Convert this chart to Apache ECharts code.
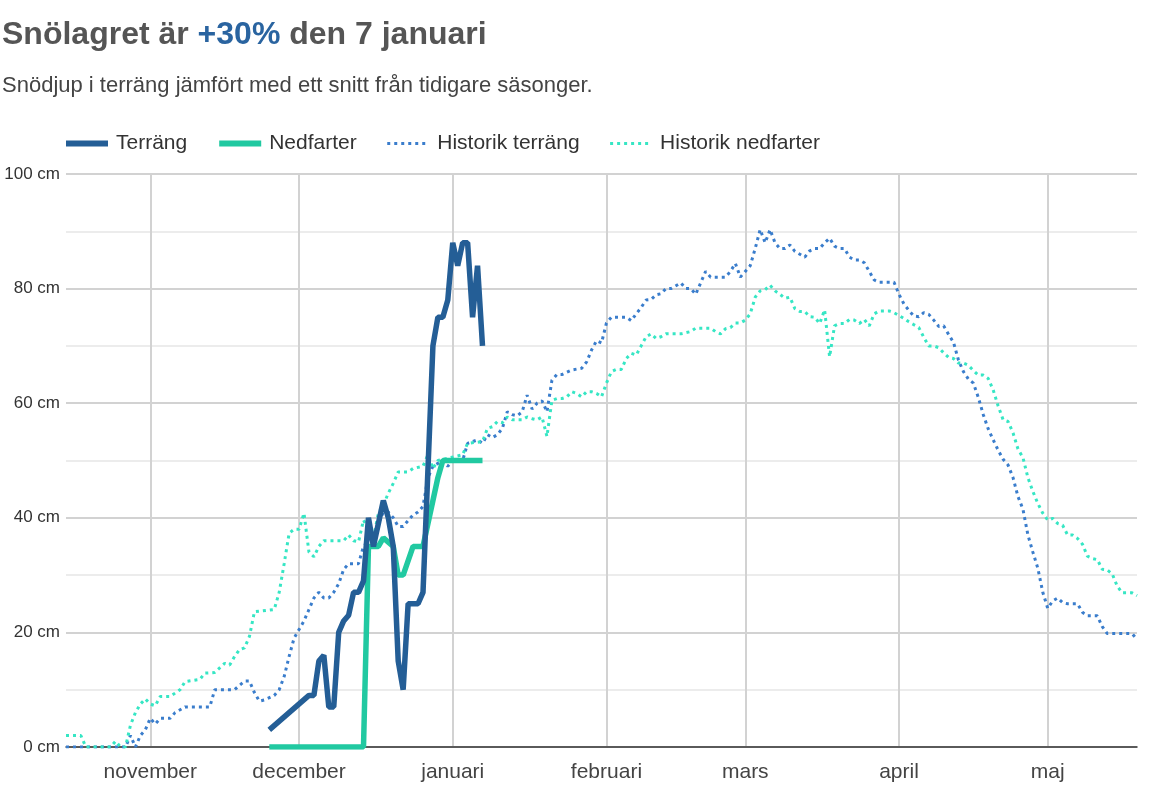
<!DOCTYPE html>
<html lang="sv">
  <head>
    <meta charset="utf-8">
    <title>Snölagret</title>
    <script src="https://cdn.jsdelivr.net/npm/echarts@6/dist/echarts.min.js"></script>
    <style>
      html, body { margin: 0; padding: 0; background: #fff; }
      #chart { width: 1151px; height: 809px; }
    </style>
  </head>
  <body>
    <div id="chart"></div>

    <script>
      // säsongen, en kategori per dag: 15 okt - 19 maj
      var seasonStart = '2022-10-15';
      var seasonEnd = '2023-05-19';

      var monthNames = {
        '01': 'januari', '02': 'februari', '03': 'mars', '04': 'april',
        '05': 'maj', '11': 'november', '12': 'december'
      };

      var legendNames = ['Terräng', 'Nedfarter', 'Historik terräng', 'Historik nedfarter'];

      // snödjup i cm, [datum, cm]
      var terrang = [
        ['11-25', 3], ['12-03', 9], ['12-04', 9], ['12-05', 15], ['12-06', 16], ['12-07', 7],
        ['12-08', 7], ['12-09', 20], ['12-10', 22], ['12-11', 23], ['12-12', 27], ['12-13', 27],
        ['12-14', 29], ['12-15', 40], ['12-16', 35], ['12-18', 43], ['12-19', 40], ['12-20', 35],
        ['12-21', 15], ['12-22', 10], ['12-23', 25], ['12-25', 25], ['12-26', 27], ['12-28', 70],
        ['12-29', 75], ['12-30', 75], ['12-31', 78], ['01-01', 88], ['01-02', 84], ['01-03', 88],
        ['01-04', 88], ['01-05', 75], ['01-06', 84], ['01-07', 70]
      ];

      var nedfarter = [
        ['11-25', 0], ['12-14', 0], ['12-15', 35], ['12-17', 35], ['12-18', 36.5], ['12-20', 35],
        ['12-21', 30], ['12-22', 30], ['12-24', 35], ['12-26', 35], ['12-28', 43], ['12-29', 47],
        ['12-30', 50], ['01-07', 50]
      ];

      var historikTerrang = [
        ['10-15', 0], ['10-27', 0], ['10-28', 2], ['10-29', 0], ['10-30', 2], ['10-31', 3],
        ['11-01', 5], ['11-02', 4], ['11-03', 5], ['11-05', 5], ['11-06', 6], ['11-08', 7],
        ['11-13', 7], ['11-14', 10], ['11-18', 10], ['11-20', 11.5], ['11-21', 11.5], ['11-22', 9.5],
        ['11-23', 8], ['11-24', 8.2], ['11-26', 9], ['11-27', 10], ['11-28', 12.3], ['11-29', 15.8],
        ['11-30', 19], ['12-01', 20.5], ['12-02', 22], ['12-03', 24], ['12-04', 26], ['12-05', 27],
        ['12-06', 26], ['12-07', 26], ['12-08', 27], ['12-09', 28.5], ['12-10', 31], ['12-11', 32],
        ['12-13', 32], ['12-14', 35], ['12-15', 36], ['12-16', 37], ['12-17', 39], ['12-18', 41],
        ['12-19', 41], ['12-20', 40], ['12-21', 38.5], ['12-22', 38.5], ['12-23', 39.5], ['12-24', 40.5],
        ['12-25', 41], ['12-26', 42], ['12-27', 47], ['12-28', 49], ['12-29', 49.5], ['12-30', 50],
        ['12-31', 49], ['01-01', 50], ['01-03', 50], ['01-04', 53], ['01-06', 53.6], ['01-07', 53],
        ['01-08', 54.5], ['01-09', 54], ['01-10', 54.5], ['01-11', 55.6], ['01-12', 58.5], ['01-13', 58],
        ['01-14', 57.8], ['01-15', 58.5], ['01-16', 61.4], ['01-17', 59], ['01-18', 60], ['01-19', 60.4],
        ['01-20', 58.5], ['01-21', 64], ['01-22', 65], ['01-23', 65], ['01-25', 65.8], ['01-27', 66.1],
        ['01-28', 67.2], ['01-29', 69.3], ['01-30', 70.9], ['01-31', 70.5], ['02-01', 74], ['02-02', 75],
        ['02-04', 75], ['02-05', 75], ['02-06', 74.4], ['02-07', 75.6], ['02-08', 76.7], ['02-09', 78],
        ['02-10', 78.1], ['02-11', 78.9], ['02-12', 79.1], ['02-13', 80], ['02-14', 80], ['02-16', 81],
        ['02-17', 80], ['02-18', 80], ['02-19', 79], ['02-20', 81], ['02-21', 83], ['02-22', 82],
        ['02-25', 82], ['02-26', 83], ['02-27', 84.4], ['02-28', 82], ['03-01', 83], ['03-02', 84],
        ['03-03', 87], ['03-04', 90.3], ['03-05', 88], ['03-06', 90.3], ['03-07', 88], ['03-08', 87],
        ['03-09', 87], ['03-10', 87.6], ['03-11', 86.5], ['03-12', 86], ['03-13', 85.5], ['03-14', 86.6],
        ['03-15', 87], ['03-16', 87], ['03-17', 88], ['03-18', 88.8], ['03-19', 87.4], ['03-20', 87],
        ['03-21', 87], ['03-22', 85.5], ['03-23', 85], ['03-24', 85], ['03-25', 84.5], ['03-26', 83],
        ['03-27', 81.5], ['03-28', 81.1], ['03-31', 81.1], ['04-01', 79], ['04-02', 77.3], ['04-03', 76.2],
        ['04-04', 75.2], ['04-05', 75.1], ['04-06', 75.8], ['04-07', 75.5], ['04-08', 74.5], ['04-09', 73.4],
        ['04-10', 73.5], ['04-11', 72], ['04-12', 70.6], ['04-13', 67.5], ['04-14', 65.5], ['04-15', 64.2],
        ['04-16', 63.5], ['04-17', 61], ['04-18', 58], ['04-19', 55.5], ['04-20', 53.6], ['04-21', 51.8],
        ['04-22', 50.2], ['04-23', 49.2], ['04-24', 47], ['04-25', 43.7], ['04-26', 41.5], ['04-27', 37],
        ['04-28', 34], ['04-29', 31.2], ['04-30', 27], ['05-01', 24.2], ['05-02', 25.5], ['05-03', 26],
        ['05-04', 25.2], ['05-05', 25], ['05-07', 25], ['05-08', 23.5], ['05-09', 22.9], ['05-11', 22.9],
        ['05-12', 21], ['05-13', 19.8], ['05-18', 19.8], ['05-19', 18.8]
      ];

      var historikNedfarter = [
        ['10-15', 2], ['10-18', 2], ['10-19', 0], ['10-24', 0], ['10-25', 1], ['10-26', 0],
        ['10-27', 0], ['10-28', 3.8], ['10-29', 6], ['10-30', 7.5], ['10-31', 8.4], ['11-01', 7.5],
        ['11-02', 7.2], ['11-03', 8.8], ['11-05', 8.8], ['11-07', 10], ['11-08', 11.4], ['11-11', 11.8],
        ['11-12', 12.9], ['11-14', 13], ['11-16', 14.6], ['11-17', 14.3], ['11-18', 15.8], ['11-19', 17],
        ['11-20', 17.3], ['11-21', 19.3], ['11-22', 23.6], ['11-26', 24], ['11-27', 27], ['11-28', 32],
        ['11-29', 37.3], ['11-30', 38], ['12-01', 38], ['12-02', 40.8], ['12-03', 34], ['12-04', 33.2],
        ['12-05', 35], ['12-06', 36], ['12-10', 36], ['12-11', 37], ['12-12', 36], ['12-13', 35.8],
        ['12-14', 39.6], ['12-15', 38], ['12-16', 36.4], ['12-17', 40.8], ['12-18', 42.2], ['12-19', 44.3],
        ['12-20', 46], ['12-21', 48], ['12-23', 48], ['12-24', 48.6], ['12-26', 49], ['12-27', 51],
        ['12-28', 48.6], ['12-29', 50], ['01-03', 51], ['01-04', 53], ['01-07', 53.3], ['01-08', 55.6],
        ['01-09', 55.9], ['01-10', 56.8], ['01-11', 56.6], ['01-12', 57.6], ['01-13', 57.1], ['01-15', 57.1],
        ['01-16', 57.6], ['01-17', 57.3], ['01-18', 57.1], ['01-19', 57.6], ['01-20', 54.2], ['01-21', 60.5],
        ['01-22', 60.8], ['01-23', 60.8], ['01-24', 61.1], ['01-25', 62], ['01-26', 61.7], ['01-27', 61.1],
        ['01-28', 62], ['01-29', 62], ['01-30', 61.7], ['01-31', 61.1], ['02-01', 63.5], ['02-02', 65.5],
        ['02-03', 65.9], ['02-04', 65.9], ['02-05', 67.8], ['02-06', 68.7], ['02-07', 68.4], ['02-08', 70],
        ['02-09', 71.6], ['02-10', 72.1], ['02-11', 71.3], ['02-12', 71.6], ['02-13', 72.1], ['02-16', 72.1],
        ['02-17', 72.3], ['02-18', 72.5], ['02-19', 73.1], ['02-22', 73.1], ['02-23', 72.5], ['02-24', 72.1],
        ['02-25', 73], ['02-26', 73.2], ['02-27', 74], ['02-28', 74], ['03-01', 74.5], ['03-02', 75.6],
        ['03-03', 78.5], ['03-04', 79.6], ['03-05', 79.8], ['03-06', 80.6], ['03-07', 79.6], ['03-08', 79],
        ['03-09', 78.3], ['03-10', 78.5], ['03-11', 76.5], ['03-12', 76], ['03-13', 76], ['03-14', 75.1],
        ['03-15', 75], ['03-16', 73.9], ['03-17', 76.3], ['03-18', 68.1], ['03-19', 73.5], ['03-20', 73.9],
        ['03-21', 73.9], ['03-22', 74.6], ['03-23', 74.5], ['03-24', 73.9], ['03-25', 74.6], ['03-26', 73.5],
        ['03-27', 75.6], ['03-28', 76.1], ['03-30', 76.1], ['03-31', 75.8], ['04-01', 75.3], ['04-02', 74.8],
        ['04-03', 74.2], ['04-04', 73.7], ['04-05', 73.2], ['04-06', 71.5], ['04-07', 70], ['04-08', 70],
        ['04-09', 69.7], ['04-10', 68.8], ['04-11', 68], ['04-12', 67.8], ['04-13', 67], ['04-14', 67],
        ['04-15', 66.6], ['04-16', 65.7], ['04-17', 64.9], ['04-18', 64.9], ['04-19', 64.3], ['04-20', 62.3],
        ['04-21', 59.5], ['04-22', 57.1], ['04-23', 56.8], ['04-24', 54.8], ['04-25', 52], ['04-26', 50.5],
        ['04-27', 47], ['04-28', 44.6], ['04-29', 42.5], ['04-30', 40.8], ['05-01', 39.6], ['05-02', 39.9],
        ['05-03', 39], ['05-04', 38.7], ['05-05', 37], ['05-06', 37], ['05-07', 36.4], ['05-08', 35.4],
        ['05-09', 33.3], ['05-10', 32.9], ['05-11', 32.7], ['05-12', 31], ['05-13', 30.9], ['05-14', 30.2],
        ['05-15', 28.1], ['05-16', 26.9], ['05-18', 26.9], ['05-19', 26.4]
      ];

      // bygg dagskategorier 'MM-DD'
      var days = [];
      var d = new Date(seasonStart + 'T12:00:00Z');
      var end = new Date(seasonEnd + 'T12:00:00Z');
      while (d <= end) {
        var mm = ('0' + (d.getUTCMonth() + 1)).slice(-2);
        var dd = ('0' + d.getUTCDate()).slice(-2);
        days.push(mm + '-' + dd);
        d.setUTCDate(d.getUTCDate() + 1);
      }

      function toPoints(arr) {
        var out = [];
        for (var i = 0; i < arr.length; i++) {
          out.push([days.indexOf(arr[i][0]), arr[i][1]]);
        }
        return out;
      }

      function isMonthStart(idx, val) {
        return days[idx].slice(3) === '01';
      }

      var font = '"Liberation Sans", Arial, Helvetica, sans-serif';

      // legendens linjetjocklek: tjocka för årets, tunna prickade för historik
      var legendData = legendNames.map(function (n, i) {
        return { name: n, lineStyle: { width: i < 2 ? 6 : 3 } };
      });

      var chart = echarts.init(document.getElementById('chart'), null, { renderer: 'canvas' });
      chart.setOption({
        backgroundColor: '#fff',
        animation: false,
        textStyle: { fontFamily: font },
        title: {
          left: 0,
          top: 17,
          padding: [0, 2],
          itemGap: 24,
          text: '{a|Snölagret är }{b|+30%}{a| den 7 januari}',
          textStyle: {
            rich: {
              a: { fontFamily: font, fontSize: 32, lineHeight: 36, fontWeight: 'bold', color: '#555' },
              b: { fontFamily: font, fontSize: 32, lineHeight: 36, fontWeight: 'bold', color: '#2a64a0' }
            }
          },
          subtext: 'Snödjup i terräng jämfört med ett snitt från tidigare säsonger.',
          subtextStyle: { fontFamily: font, fontSize: 22, lineHeight: 26, color: '#444' }
        },
        legend: {
          left: 63,
          top: 133,
          padding: 0,
          itemWidth: 42,
          itemHeight: 20,
          itemGap: 29,
          itemStyle: { opacity: 0 },
          textStyle: { fontFamily: font, fontSize: 21, color: '#333', padding: [0, 0, 0, 3] },
          data: legendData
        },
        grid: {
          left: 66,
          right: 14,
          top: 174,
          bottom: 62,
          containLabel: false
        },
        xAxis: {
          type: 'category',
          data: days,
          boundaryGap: false,
          axisLine: { lineStyle: { color: '#333', width: 1.5 } },
          axisTick: { show: false },
          axisLabel: {
            interval: isMonthStart,
            formatter: function (val) { return monthNames[val.slice(0, 2)]; },
            fontFamily: font,
            fontSize: 21,
            color: '#444',
            margin: 15
          },
          splitLine: {
            show: true,
            interval: isMonthStart,
            lineStyle: { color: '#d2d2d2', width: 2 }
          }
        },
        yAxis: {
          type: 'value',
          min: 0,
          max: 100,
          interval: 20,
          axisLine: { show: false },
          axisTick: { show: false },
          axisLabel: {
            formatter: '{value} cm',
            fontFamily: font,
            fontSize: 17,
            color: '#333',
            margin: 6
          },
          splitLine: { lineStyle: { color: '#d2d2d2', width: 2 } },
          minorTick: { show: false, splitNumber: 2 },
          minorSplitLine: { show: true, lineStyle: { color: '#ececec', width: 2 } }
        },
        series: [
          {
            name: 'Historik terräng',
            type: 'line',
            symbol: 'none',
            data: toPoints(historikTerrang),
            lineStyle: { color: '#3a7dcc', width: 3, type: [3, 4] },
            itemStyle: { color: '#3a7dcc' },
            z: 2
          },
          {
            name: 'Historik nedfarter',
            type: 'line',
            symbol: 'none',
            data: toPoints(historikNedfarter),
            lineStyle: { color: '#36e6c4', width: 3, type: [3, 4] },
            itemStyle: { color: '#36e6c4' },
            z: 2
          },
          {
            name: 'Nedfarter',
            type: 'line',
            symbol: 'none',
            data: toPoints(nedfarter),
            lineStyle: { color: '#21c9a1', width: 5.5 },
            itemStyle: { color: '#21c9a1' },
            z: 3
          },
          {
            name: 'Terräng',
            type: 'line',
            symbol: 'none',
            data: toPoints(terrang),
            lineStyle: { color: '#245e96', width: 5.5 },
            itemStyle: { color: '#245e96' },
            z: 4
          }
        ]
      });
    </script>
  </body>
</html>
